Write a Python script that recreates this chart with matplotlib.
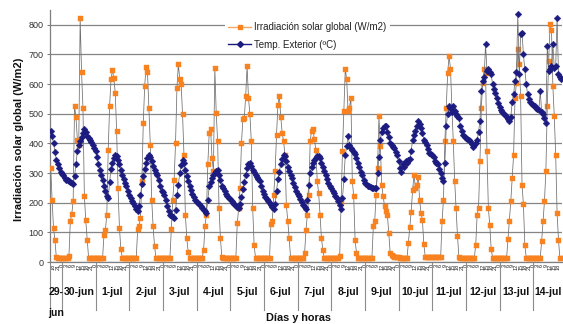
import numpy as np
import matplotlib
matplotlib.use('Agg')
import matplotlib.pyplot as plt
from matplotlib.lines import Line2D
from matplotlib.transforms import blended_transform_factory

plt.rcParams['font.family'] = ['Liberation Sans', 'DejaVu Sans']

# ---------------- data (hourly, starting 29-jun 16h) ----------------
start_hour = 16
day_labels = ['29-\njun', '30-jun', '1-jul', '2-jul', '3-jul', '4-jul', '5-jul', '6-jul',
              '7-jul', '8-jul', '9-jul', '10-jul', '11-jul', '12-jul', '13-jul', '14-jul']
series_names = ['Irradiación solar global (W/m2)', 'Temp. Exterior (ºC)']

irr_29jun = [318, 210, 115, 75, 16, 15, 15, 14]
irr_30jun = [14, 14, 14, 15, 15, 20, 139, 161, 205, 526, 490, 413, 395, 824, 640, 520, 222, 140, 75, 15, 15, 14, 14, 14]
irr_1jul = [14, 14, 14, 14, 14, 15, 92, 109, 160, 379, 526, 616, 648, 620, 571, 441, 250, 115, 45, 15, 14, 14, 14, 14]
irr_2jul = [14, 14, 14, 14, 14, 15, 110, 122, 150, 274, 470, 594, 658, 640, 520, 396, 210, 120, 55, 15, 14, 14, 14, 14]
irr_3jul = [14, 14, 14, 14, 14, 15, 110, 210, 278, 402, 588, 667, 616, 599, 498, 362, 160, 81, 35, 15, 14, 14, 14, 14]
irr_4jul = [14, 14, 14, 14, 14, 40, 122, 160, 329, 436, 447, 351, 307, 655, 503, 408, 182, 81, 16, 14, 14, 14, 14, 14]
irr_5jul = [14, 14, 14, 14, 14, 130, 182, 250, 402, 481, 485, 560, 661, 554, 498, 408, 182, 58, 15, 14, 14, 14, 14, 14]
irr_6jul = [14, 14, 14, 14, 14, 128, 139, 227, 307, 430, 531, 560, 490, 436, 408, 362, 191, 139, 81, 15, 14, 14, 14, 14]
irr_7jul = [14, 14, 14, 14, 14, 30, 109, 160, 227, 409, 443, 447, 414, 379, 274, 233, 160, 81, 40, 14, 14, 14, 14, 14]
irr_8jul = [14, 14, 14, 14, 14, 14, 20, 200, 375, 509, 650, 616, 509, 520, 554, 274, 222, 74, 30, 14, 14, 14, 14, 14]
irr_9jul = [14, 14, 14, 14, 14, 14, 120, 139, 227, 318, 491, 390, 260, 221, 189, 172, 160, 98, 30, 22, 20, 18, 17, 16]
irr_10jul = [16, 15, 15, 14, 13, 13, 13, 64, 119, 170, 243, 294, 250, 260, 288, 209, 165, 142, 60, 18, 17, 17, 18, 18]
irr_11jul = [18, 18, 17, 17, 16, 16, 16, 137, 210, 408, 520, 638, 695, 652, 520, 408, 273, 182, 87, 18, 15, 14, 14, 14]
irr_12jul = [14, 14, 14, 14, 14, 14, 14, 58, 160, 182, 340, 520, 605, 650, 638, 374, 182, 126, 45, 15, 14, 14, 14, 14]
irr_13jul = [14, 14, 14, 14, 14, 14, 77, 137, 205, 284, 362, 554, 605, 717, 667, 560, 261, 194, 58, 15, 14, 14, 14, 14]
irr_14jul = [14, 14, 14, 14, 14, 14, 71, 137, 205, 306, 526, 678, 802, 784, 592, 491, 361, 165, 74, 13, 13]

temp_29jun = [441, 425, 400, 372, 345, 330, 316, 305]
temp_30jun = [298, 292, 285, 278, 276, 274, 270, 265, 262, 290, 330, 375, 395, 408, 420, 435, 447, 438, 425, 418, 412, 405, 395, 385]
temp_1jul = [375, 355, 330, 312, 292, 275, 255, 240, 222, 215, 270, 315, 335, 350, 360, 358, 345, 329, 312, 295, 280, 268, 255, 240]
temp_2jul = [225, 216, 207, 198, 190, 180, 172, 190, 225, 262, 290, 315, 335, 350, 360, 355, 340, 325, 312, 300, 292, 275, 255, 238]
temp_3jul = [235, 226, 210, 190, 172, 160, 157, 153, 150, 175, 225, 260, 300, 328, 345, 335, 310, 290, 272, 258, 243, 230, 220, 210]
temp_4jul = [203, 198, 195, 190, 182, 176, 172, 165, 210, 255, 270, 282, 292, 300, 307, 312, 295, 275, 258, 248, 238, 230, 223, 216]
temp_5jul = [212, 207, 200, 194, 189, 184, 181, 195, 220, 245, 270, 295, 318, 330, 334, 325, 312, 302, 293, 286, 280, 272, 258, 240]
temp_6jul = [228, 220, 214, 207, 199, 192, 185, 180, 195, 240, 280, 305, 330, 348, 360, 358, 342, 322, 306, 292, 284, 268, 252, 238]
temp_7jul = [230, 222, 212, 202, 193, 185, 178, 210, 260, 300, 320, 334, 345, 352, 356, 358, 350, 335, 320, 307, 294, 280, 267, 257]
temp_8jul = [250, 241, 232, 224, 215, 206, 192, 178, 215, 280, 360, 390, 425, 395, 385, 378, 372, 365, 350, 335, 320, 305, 292, 278]
temp_9jul = [268, 262, 258, 255, 252, 250, 249, 248, 250, 300, 355, 410, 440, 452, 458, 458, 440, 420, 400, 393, 388, 384, 372, 362]
temp_10jul = [340, 318, 305, 330, 320, 341, 335, 345, 348, 375, 412, 430, 441, 460, 475, 465, 453, 435, 413, 405, 396, 380, 368, 365]
temp_11jul = [362, 355, 340, 335, 329, 315, 300, 285, 273, 335, 460, 500, 526, 518, 505, 526, 510, 498, 492, 487, 460, 441, 430, 422]
temp_12jul = [419, 415, 410, 408, 398, 387, 395, 402, 410, 440, 475, 577, 610, 625, 734, 645, 650, 640, 633, 600, 585, 570, 554, 535]
temp_13jul = [522, 512, 505, 500, 497, 490, 482, 476, 490, 540, 565, 610, 640, 835, 633, 768, 774, 700, 650, 599, 565, 550, 540, 533]
temp_14jul = [531, 526, 521, 516, 512, 577, 505, 498, 485, 470, 729, 644, 650, 661, 734, 655, 660, 824, 633, 625, 616]

irr_days = [irr_29jun, irr_30jun, irr_1jul, irr_2jul, irr_3jul, irr_4jul, irr_5jul, irr_6jul,
            irr_7jul, irr_8jul, irr_9jul, irr_10jul, irr_11jul, irr_12jul, irr_13jul, irr_14jul]
temp_days = [temp_29jun, temp_30jun, temp_1jul, temp_2jul, temp_3jul, temp_4jul, temp_5jul, temp_6jul,
             temp_7jul, temp_8jul, temp_9jul, temp_10jul, temp_11jul, temp_12jul, temp_13jul, temp_14jul]

irr = np.array([v for d in irr_days for v in d], dtype=float)
temp = np.array([v for d in temp_days for v in d], dtype=float)
t = np.arange(start_hour, start_hour + len(irr))
t2 = np.arange(start_hour, start_hour + len(temp))

# ---------------- styling ----------------
W, H = 563, 324
orange = '#F7821F'
navy = '#1B1B80'
gray_line = '#6e6e6e'

fig = plt.figure(figsize=(W / 100, H / 100), dpi=100)
ax = fig.add_axes([50 / W, 1 - 262 / H, 512 / W, 252 / H])
xmin, xmax = t[0] - 0.5, t[-1] + 0.5
ax.set_xlim(xmin, xmax)
ax.set_ylim(0, 850)

ax.plot(t, irr, color=gray_line, lw=0.55, zorder=2)
ax.plot(t, irr, ls='none', marker='s', ms=3.6, mfc=orange, mec=orange, mew=0.3, zorder=3)
ax.plot(t2, temp, color=gray_line, lw=0.55, zorder=4)
ax.plot(t2, temp, ls='none', marker='D', ms=3.4, mfc=navy, mec=navy, mew=0.3, zorder=5)

# y axis
ax.set_yticks(np.arange(0, 900, 100))
ax.yaxis.grid(True, color='#858585', lw=0.9)
ax.set_axisbelow(True)
ax.tick_params(axis='y', labelsize=6.5, labelcolor='#333333', color='#808080',
               length=2.5, width=0.8, pad=2)
for s in ['top', 'right']:
    ax.spines[s].set_visible(False)
for s in ['left', 'bottom']:
    ax.spines[s].set_color('#7f7f7f')
    ax.spines[s].set_linewidth(0.9)

# x axis: hour labels every 3 hours
tick_pos = [h for h in t if h % 3 == 0]
ax.set_xticks(tick_pos)
ax.set_xticklabels([str(h % 24) for h in tick_pos], rotation=90, fontsize=4.0, color='#222222')
ax.tick_params(axis='x', length=0, pad=1.2)

trans = blended_transform_factory(ax.transData, ax.transAxes)
sep_bottom = (262 - 310) / 252.0
bounds = [xmin] + [24 * d for d in range(1, len(day_labels))]
for b in bounds:
    ax.plot([b, b], [0, sep_bottom], transform=trans, clip_on=False,
            color='#8c8c8c', lw=0.8)

ends = bounds[1:] + [xmax]
ylab = (262 - 292) / 252.0
for i, lab in enumerate(day_labels):
    cx = (bounds[i] + ends[i]) / 2
    parts = lab.split('\n')
    ax.text(cx, ylab, parts[0], transform=trans, ha='center', va='center',
            fontsize=7.6, fontweight='bold', color='#111111')
    if len(parts) > 1:
        ax.text(cx, (262 - 313) / 252.0, parts[1], transform=trans, ha='center', va='center',
                fontsize=7.6, fontweight='bold', color='#111111')

fig.text(298 / W, 1 - 318 / H, 'Días y horas', ha='center', va='center',
         fontsize=7.8, fontweight='bold', color='#111111')
fig.text(19 / W, 1 - 139 / H, 'Irradiación solar global (W/m2)', rotation=90,
         ha='center', va='center', fontsize=8, fontweight='bold', color='#111111')

h1 = Line2D([], [], color='#F4A86A', lw=1.0, marker='s', ms=3.4, mfc=orange, mec=orange)
h2 = Line2D([], [], color=navy, lw=1.0, marker='D', ms=3.0, mfc=navy, mec=navy)
leg = fig.legend([h1, h2], series_names, loc='upper left',
                 bbox_to_anchor=(225 / W, 1 - 19 / H), fontsize=7, frameon=True,
                 handlelength=2.3, handletextpad=0.35, labelspacing=0.75,
                 borderpad=0.35, borderaxespad=0)
leg.get_frame().set_facecolor('white')
leg.get_frame().set_edgecolor('none')
leg.get_frame().set_alpha(1)
for txt in leg.get_texts():
    txt.set_color('#222222')

fig.savefig('out.png', dpi=100, facecolor='white')
